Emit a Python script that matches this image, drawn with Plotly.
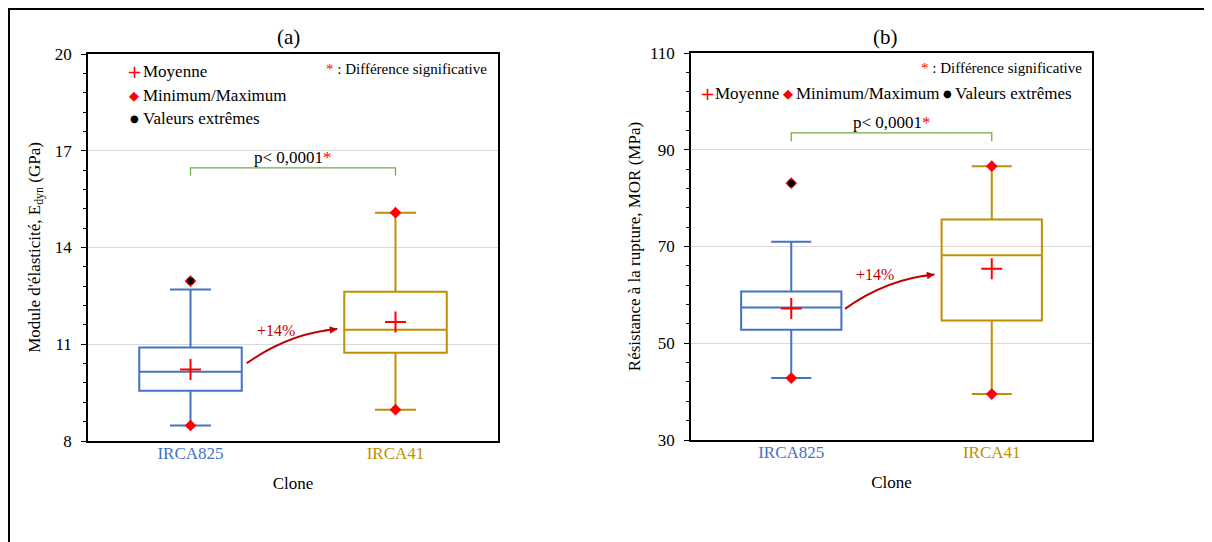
import plotly.graph_objects as go

# the page body keeps its default 8px margin, so the figure starts at (8, 8)
OFF = 8
W, H = 1212 - OFF, 542 - OFF

# ------------------------
# Data
# ------------------------
clones = ["IRCA825", "IRCA41"]
clone_colors = ["#4472C4", "#BF9000"]

# (a) Module d'elasticite, Edyn (GPa)
e_q1 = [9.56, 10.74]
e_median = [10.15, 11.45]
e_q3 = [10.90, 12.63]
e_lowfence = [8.48, 8.97]
e_upfence = [12.70, 15.08]
e_mean = [10.22, 11.69]
e_min = [8.48, 8.97]
e_max = [12.96, 15.08]
e_outlier_clone = ["IRCA825"]
e_outliers = [12.96]

# (b) Resistance a la rupture, MOR (MPa)
m_q1 = [52.8, 54.7]
m_median = [57.4, 68.2]
m_q3 = [60.7, 75.6]
m_lowfence = [42.8, 39.5]
m_upfence = [71.0, 86.6]
m_mean = [57.2, 65.4]
m_min = [42.8, 39.5]
m_max = [83.1, 86.6]
m_outlier_clone = ["IRCA825"]
m_outliers = [83.1]

gain_label = "+14%"
p_label = "p< 0,0001"

FONT = "Liberation Serif"
RED = "#FF0000"
DARKRED = "#C00000"
GREEN = "#70AD47"


def px(x):
    return (x - OFF) / W


def py(y):
    return 1 - (y - OFF) / H


fig = go.Figure()

panels = [
    dict(xa="x", ya="y", q1=e_q1, med=e_median, q3=e_q3, lo=e_lowfence, hi=e_upfence,
         mean=e_mean, mn=e_min, mx=e_max, oc=e_outlier_clone, out=e_outliers),
    dict(xa="x2", ya="y2", q1=m_q1, med=m_median, q3=m_q3, lo=m_lowfence, hi=m_upfence,
         mean=m_mean, mn=m_min, mx=m_max, oc=m_outlier_clone, out=m_outliers),
]

for p in panels:
    for i, c in enumerate(clones):
        fig.add_trace(go.Box(
            x=[i], q1=[p["q1"][i]], median=[p["med"][i]], q3=[p["q3"][i]],
            lowerfence=[p["lo"][i]], upperfence=[p["hi"][i]],
            width=0.5, whiskerwidth=0.4, boxpoints=False,
            line=dict(color=clone_colors[i], width=2),
            fillcolor="rgba(255,255,255,0)",
            xaxis=p["xa"], yaxis=p["ya"], showlegend=False, hoverinfo="skip",
        ))
    pos = list(range(len(clones)))
    # min / max diamonds
    fig.add_trace(go.Scatter(
        x=pos + pos, y=p["mn"] + p["mx"], mode="markers",
        marker=dict(symbol="diamond", size=9, color=RED),
        xaxis=p["xa"], yaxis=p["ya"], showlegend=False, hoverinfo="skip",
    ))
    # outliers
    fig.add_trace(go.Scatter(
        x=[clones.index(c) for c in p["oc"]], y=p["out"], mode="markers",
        marker=dict(symbol="circle", size=7, color="black"),
        xaxis=p["xa"], yaxis=p["ya"], showlegend=False, hoverinfo="skip",
    ))
    # means
    fig.add_trace(go.Scatter(
        x=pos, y=p["mean"], mode="markers",
        marker=dict(symbol="cross-thin", size=15, line=dict(color=RED, width=2)),
        xaxis=p["xa"], yaxis=p["ya"], showlegend=False, hoverinfo="skip",
    ))

ticktext = [f"<span style='color:{col}'>{c}</span>" for c, col in zip(clones, clone_colors)]

xcommon = dict(
    range=[-0.5, 1.5], tickvals=[0, 1], ticktext=ticktext, showgrid=False, zeroline=False,
    showline=True, linecolor="black", linewidth=1.5, mirror=True, ticks="",
    tickfont=dict(family=FONT, size=17), automargin=False, ticklabelstandoff=-4,
    title=dict(text="Clone", font=dict(family=FONT, size=17, color="black")),
)
ycommon = dict(
    showgrid=True, gridcolor="#D9D9D9", gridwidth=1, zeroline=False,
    showline=True, linecolor="black", linewidth=1.5, mirror=True,
    ticks="outside", ticklen=5, tickcolor="black", tickwidth=1, automargin=False,
    tickfont=dict(family=FONT, size=17, color="black"), ticklabelstandoff=6,
)

fig.update_layout(
    width=W, height=H, autosize=False,
    margin=dict(l=0, r=0, t=0, b=0),
    paper_bgcolor="white", plot_bgcolor="white",
    font=dict(family=FONT, color="black"),
    xaxis=dict(domain=[px(88), px(498)], anchor="y", **xcommon),
    yaxis=dict(domain=[py(441), py(54)], anchor="x", range=[8, 20], tick0=8, dtick=3,
               minor=dict(tick0=8, dtick=0.6, ticks="outside", ticklen=3, tickcolor="black", showgrid=False),
               title=dict(text="Module d'élasticité, E<sub>dyn</sub> (GPa)", standoff=10,
                          font=dict(family=FONT, size=17, color="black")),
               **ycommon),
    xaxis2=dict(domain=[px(691), px(1092)], anchor="y2", **xcommon),
    yaxis2=dict(domain=[py(440), py(53)], anchor="x2", range=[30, 110], tick0=30, dtick=20,
                minor=dict(tick0=30, dtick=4, ticks="outside", ticklen=3, tickcolor="black", showgrid=False),
                title=dict(text="Résistance à la rupture, MOR (MPa)", standoff=5,
                           font=dict(family=FONT, size=17, color="black")),
                **ycommon),
)

shapes = []
annotations = []

# outer frame (left + top lines)
shapes.append(dict(type="line", xref="paper", yref="paper", x0=px(9), x1=px(9),
                   y0=-0.05, y1=py(9), line=dict(color="black", width=2)))
shapes.append(dict(type="line", xref="paper", yref="paper", x0=px(8), x1=1.05,
                   y0=py(9), y1=py(9), line=dict(color="black", width=2)))

# panel decorations
decor = [
    dict(xa="x", ya="y", title="(a)", tx=288, ty=37,
         br=(16.23, 16.47), pty=16.47,
         arrow=((0.274, 10.41), (0.485, 11.35), (0.716, 11.47)), gain=(0.417, 11.44),
         sig_x=489, sig_y=69),
    dict(xa="x2", ya="y2", title="(b)", tx=886, ty=37,
         br=(91.75, 93.5), pty=93.5,
         arrow=((0.268, 57.1), (0.478, 63.3), (0.714, 64.2)), gain=(0.418, 64.2),
         sig_x=1084, sig_y=68),
]

for d in decor:
    annotations.append(dict(xref="paper", yref="paper", x=px(d["tx"]), y=py(d["ty"]),
                            xanchor="center", yanchor="middle",
                            text=d["title"], showarrow=False, font=dict(size=21)))
    lo, hi = d["br"]
    shapes.append(dict(type="path", xref=d["xa"], yref=d["ya"],
                       path=f"M 0,{lo} L 0,{hi} L 1,{hi} L 1,{lo}",
                       line=dict(color=GREEN, width=1.3)))
    annotations.append(dict(xref=d["xa"], yref=d["ya"], x=0.5, y=d["pty"], yanchor="bottom",
                            text=f"{p_label}<span style='color:{RED}'>*</span>",
                            showarrow=False, font=dict(size=17), yshift=-1))
    (x0, y0), (cx, cy), (x1, y1) = d["arrow"]
    shapes.append(dict(type="path", xref=d["xa"], yref=d["ya"],
                       path=f"M {x0},{y0} Q {cx},{cy} {x1},{y1}",
                       line=dict(color=DARKRED, width=2)))
    t = 0.85
    tx = (1 - t) ** 2 * x0 + 2 * (1 - t) * t * cx + t ** 2 * x1
    ty = (1 - t) ** 2 * y0 + 2 * (1 - t) * t * cy + t ** 2 * y1
    annotations.append(dict(xref=d["xa"], yref=d["ya"], x=x1, y=y1, axref=d["xa"], ayref=d["ya"],
                            ax=tx, ay=ty, text="", showarrow=True, arrowhead=2, arrowsize=1,
                            arrowwidth=1.5, arrowcolor=DARKRED, standoff=0))
    annotations.append(dict(xref=d["xa"], yref=d["ya"], x=d["gain"][0], y=d["gain"][1],
                            xanchor="center", yanchor="middle",
                            text=gain_label, showarrow=False, font=dict(size=16, color=DARKRED)))
    annotations.append(dict(xref="paper", yref="paper", x=px(d["sig_x"]), y=py(d["sig_y"]),
                            xanchor="right", yanchor="middle",
                            text=f"<span style='color:{RED}'>*</span> : Différence significative",
                            showarrow=False, font=dict(size=15)))


# legend-like keys
def key(x_sym, x_txt, y, sym, sym_color, sym_size, label):
    annotations.append(dict(xref="paper", yref="paper", x=px(x_sym), y=py(y), text=sym,
                            xanchor="center", yanchor="middle",
                            showarrow=False, font=dict(family="DejaVu Sans", size=sym_size, color=sym_color)))
    annotations.append(dict(xref="paper", yref="paper", x=px(x_txt), y=py(y), xanchor="left",
                            yanchor="middle",
                            text=label, showarrow=False, font=dict(size=17)))


key(134, 141, 72, "+", RED, 18, "Moyenne")
key(134, 141, 96, "◆", RED, 13, "Minimum/Maximum")
key(134, 141, 118, "●", "black", 10, "Valeurs extrêmes")

key(707, 713, 93, "+", RED, 18, "Moyenne")
key(788, 794, 93, "◆", RED, 13, "Minimum/Maximum")
key(947, 953, 93, "●", "black", 10, "Valeurs extrêmes")

fig.update_layout(shapes=shapes, annotations=annotations)

fig.write_html("out.html")
